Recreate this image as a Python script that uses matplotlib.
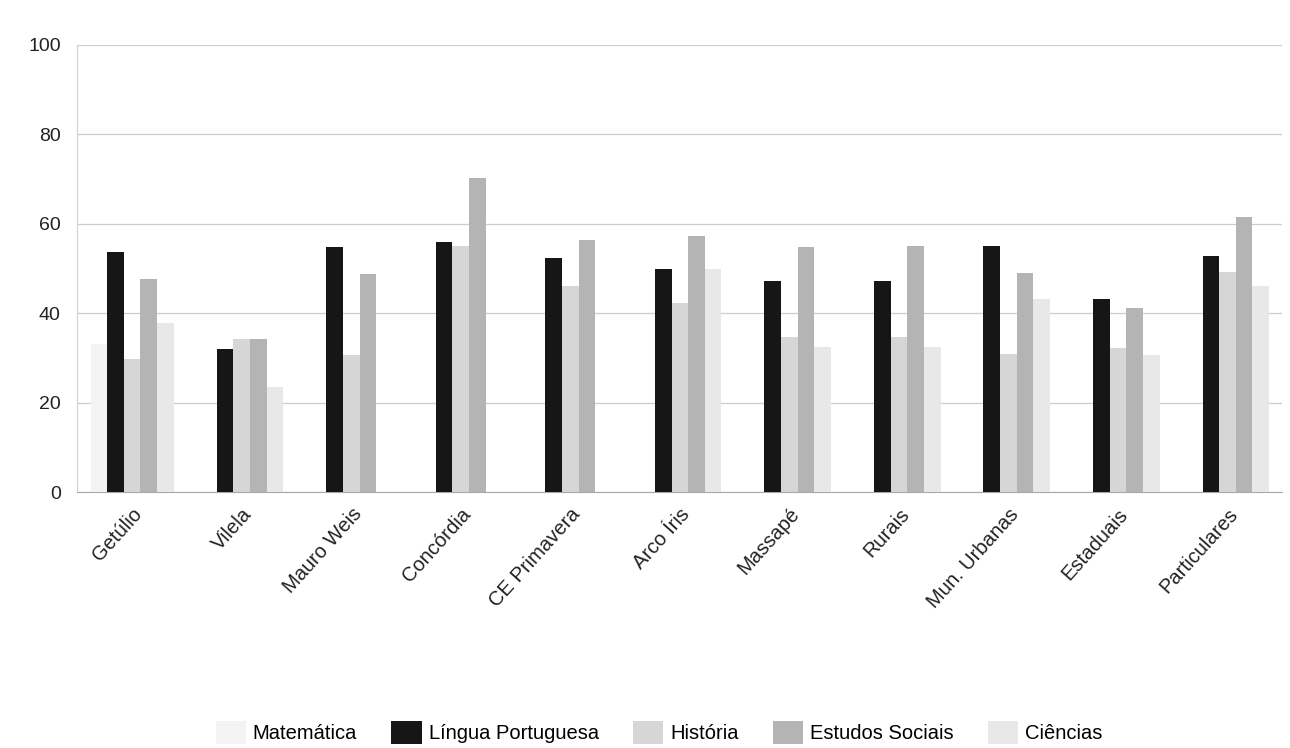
import matplotlib
matplotlib.use("Agg")
import matplotlib.pyplot as plt
import numpy as np

# values (nan = bar not visible in the print)
escolas = ['Getúlio', 'Vilela', 'Mauro Weis', 'Concórdia', 'CE Primavera', 'Arco Íris',
           'Massapé', 'Rurais', 'Mun. Urbanas', 'Estaduais', 'Particulares']
matematica = [33.1, np.nan, np.nan, np.nan, np.nan, np.nan, np.nan, np.nan, np.nan, np.nan, np.nan]
lingua_portuguesa = [53.6, 32.0, 54.9, 56.0, 52.4, 49.8, 47.3, 47.3, 55.1, 43.1, 52.9]
historia = [29.8, 34.2, 30.7, 55.0, 46.2, 42.4, 34.7, 34.7, 30.9, 32.2, 49.3]
estudos_sociais = [47.6, 34.2, 48.7, 70.2, 56.4, 57.3, 54.9, 55.1, 48.9, 41.1, 61.6]
ciencias = [37.8, 23.6, np.nan, np.nan, np.nan, 49.8, 32.4, 32.4, 43.1, 30.7, 46.2]

series = [
    ('Matemática', matematica, '#f3f3f3'),
    ('Língua Portuguesa', lingua_portuguesa, '#161616'),
    ('História', historia, '#d6d6d6'),
    ('Estudos Sociais', estudos_sociais, '#b4b4b4'),
    ('Ciências', ciencias, '#e8e8e8'),
]

plt.rcParams['font.family'] = ['Liberation Sans', 'DejaVu Sans']

fig = plt.figure(figsize=(12.9, 7.48), dpi=100)
ax = fig.add_axes([0.060, 0.342, 0.934, 0.598])

x = np.arange(len(escolas))
width = 0.152
for i, (name, vals, color) in enumerate(series):
    offs = (i - 2) * width
    ax.bar(x + offs, vals, width, color=color, label=name, zorder=3)

ax.set_ylim(0, 100)
ax.set_xlim(-0.5, len(escolas) - 0.5)
ax.set_yticks([0, 20, 40, 60, 80, 100])
ax.yaxis.grid(True, color='#cccccc', linewidth=0.9, zorder=0)
ax.set_axisbelow(True)
for side in ['top', 'right']:
    ax.spines[side].set_visible(False)
ax.spines['left'].set_color('#d2d2d2')
ax.spines['bottom'].set_color('#a8a8a8')
ax.tick_params(axis='y', length=0, labelsize=14, pad=12, colors='#222222')
ax.tick_params(axis='x', length=0, pad=9)
ax.set_xticks(x)
ax.set_xticklabels(escolas, rotation=48, ha='right', rotation_mode='anchor',
                   fontsize=14.5, color='#222222')

handles, labels = ax.get_legend_handles_labels()
fig.legend(handles, labels, loc='lower center', bbox_to_anchor=(0.511, -0.014), ncol=5,
           frameon=False, fontsize=14.5, handlelength=1.5, handleheight=1.4,
           columnspacing=1.7, handletextpad=0.35, borderpad=0.2)

fig.savefig('out.png', dpi=100, facecolor='white')
